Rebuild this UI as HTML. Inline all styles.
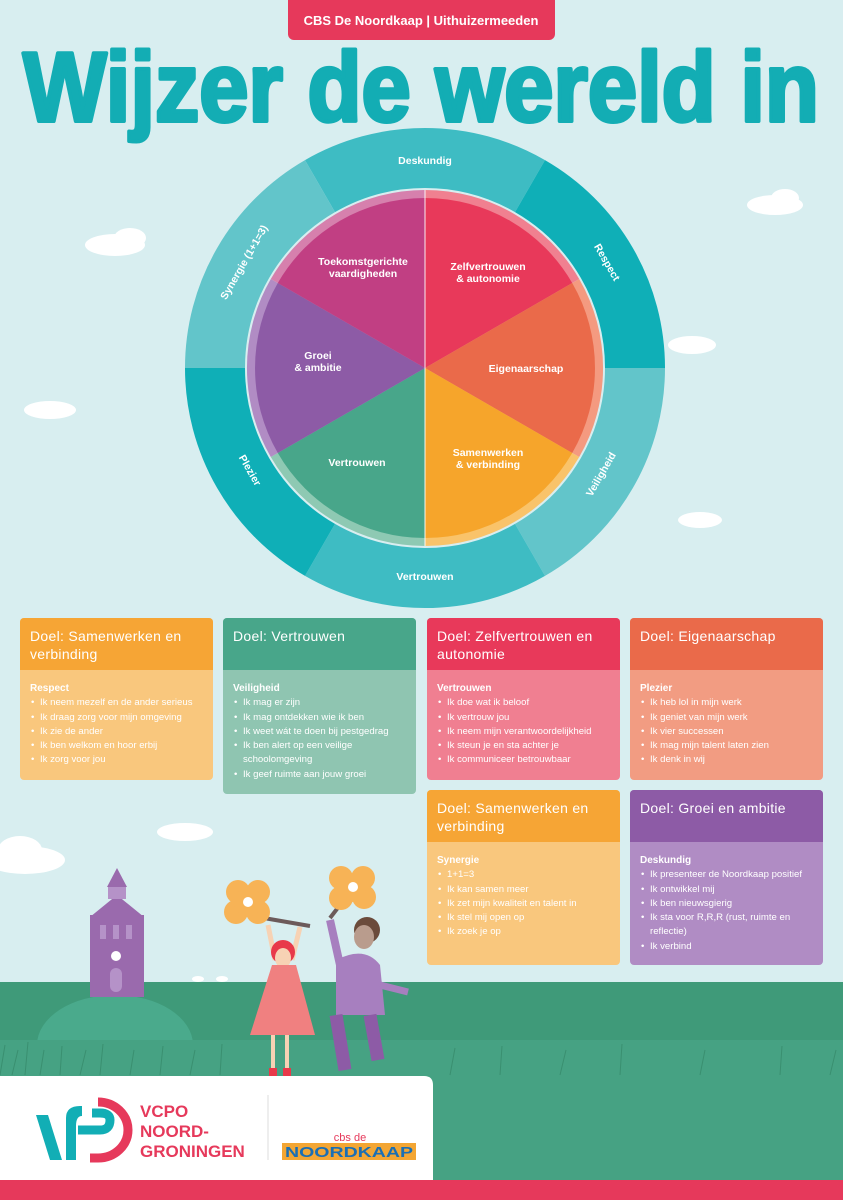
<!DOCTYPE html>
<html><head><meta charset="utf-8"><style>
*{margin:0;padding:0;box-sizing:border-box}
body{width:843px;height:1200px;overflow:hidden;background:#d8eef0;font-family:"Liberation Sans",sans-serif;position:relative}
.card{position:absolute;width:193px;border-radius:4px;overflow:hidden;color:#fff}
.card .h{height:52px;padding:9px 10px;font-size:14px;line-height:18px;letter-spacing:0.3px}
.card .b{padding:12px 10px 8px;font-size:9.6px;line-height:14.3px}
.card .b b{font-size:10px}
.card ul{list-style:none}
.card li{padding-left:10px;position:relative}
.card li:before{content:"•";position:absolute;left:1px}
</style></head><body>
<svg width="843" height="1200" style="position:absolute;left:0;top:0">
<g fill="#fff">
<ellipse cx="115" cy="245" rx="30" ry="11"/><ellipse cx="130" cy="238" rx="16" ry="10"/>
<ellipse cx="775" cy="205" rx="28" ry="10"/><ellipse cx="785" cy="198" rx="14" ry="9"/>
<ellipse cx="692" cy="345" rx="24" ry="9"/><ellipse cx="50" cy="410" rx="26" ry="9"/>
<ellipse cx="700" cy="520" rx="22" ry="8"/><ellipse cx="185" cy="832" rx="28" ry="9"/>
<ellipse cx="25" cy="860" rx="40" ry="14"/><ellipse cx="20" cy="850" rx="22" ry="14"/>
</g>
<rect x="288" y="-6" width="267" height="46" rx="6" fill="#e6395b"/>
<text x="421" y="25" fill="#fff" font-size="13" font-weight="bold" text-anchor="middle">CBS De Noordkaap | Uithuizermeeden</text>
<text x="421" y="121" fill="#13adb4" stroke="#13adb4" stroke-width="4" stroke-linejoin="round" font-size="98" font-weight="bold" text-anchor="middle" textLength="796" lengthAdjust="spacingAndGlyphs">Wijzer de wereld in</text>
<g fill="none" stroke-width="60">
<path d="M320.0,186.1 A210 210 0 0 1 530.0,186.1" stroke="#3ebcc3"/>
<path d="M530.0,186.1 A210 210 0 0 1 635,368" stroke="#0fafb7"/>
<path d="M635,368 A210 210 0 0 1 530.0,549.9" stroke="#62c5ca"/>
<path d="M530.0,549.9 A210 210 0 0 1 320.0,549.9" stroke="#3ebcc3"/>
<path d="M320.0,549.9 A210 210 0 0 1 215,368" stroke="#0fafb7"/>
<path d="M215,368 A210 210 0 0 1 320.0,186.1" stroke="#62c5ca"/>
</g>
<g fill="#fff" font-size="10.5" font-weight="bold" text-anchor="middle">
<text x="425" y="164">Deskundig</text>
<text transform="translate(604,264) rotate(60)">Respect</text>
<text transform="translate(604,476) rotate(-60)">Veiligheid</text>
<text x="425" y="580">Vertrouwen</text>
<text transform="translate(247,472) rotate(60)">Plezier</text>
<text transform="translate(247,264) rotate(-60)">Synergie (1+1=3)</text>
</g>
<path d="M425,368 L425,190 A178 178 0 0 1 579.2,279 Z" fill="#f08090"/>
<path d="M425,368 L579.2,279 A178 178 0 0 1 579.2,457 Z" fill="#f49a80"/>
<path d="M425,368 L579.2,457 A178 178 0 0 1 425,546 Z" fill="#f9c36a"/>
<path d="M425,368 L425,546 A178 178 0 0 1 270.8,457 Z" fill="#8ec9b3"/>
<path d="M425,368 L270.8,457 A178 178 0 0 1 270.8,279 Z" fill="#b18cc4"/>
<path d="M425,368 L270.8,279 A178 178 0 0 1 425,190 Z" fill="#d680ad"/>
<path d="M425,368 L425,198 A170 170 0 0 1 572.2,283 Z" fill="#e8395a"/>
<path d="M425,368 L572.2,283 A170 170 0 0 1 572.2,453 Z" fill="#ea6a4a"/>
<path d="M425,368 L572.2,453 A170 170 0 0 1 425,538 Z" fill="#f6a52b"/>
<path d="M425,368 L425,538 A170 170 0 0 1 277.8,453 Z" fill="#48a68a"/>
<path d="M425,368 L277.8,453 A170 170 0 0 1 277.8,283 Z" fill="#8d5ba6"/>
<path d="M425,368 L277.8,283 A170 170 0 0 1 425,198 Z" fill="#c13f83"/>
<g stroke="#fff" stroke-width="1.5" opacity="0.6"><line x1="425" y1="190" x2="425" y2="546"/></g>
<g fill="#fff" font-size="10.5" font-weight="bold" text-anchor="middle">
<text x="488" y="270">Zelfvertrouwen</text><text x="488" y="282">&amp; autonomie</text>
<text x="526" y="372">Eigenaarschap</text>
<text x="488" y="456">Samenwerken</text><text x="488" y="468">&amp; verbinding</text>
<text x="357" y="466">Vertrouwen</text>
<text x="318" y="359">Groei</text><text x="318" y="371">&amp; ambitie</text>
<text x="363" y="265">Toekomstgerichte</text><text x="363" y="277">vaardigheden</text>
</g>
<rect x="0" y="982" width="843" height="218" fill="#3f9a79"/>
<ellipse cx="115" cy="1045" rx="78" ry="50" fill="#4aaa8c"/>
<rect x="0" y="1040" width="843" height="160" fill="#46a283"/>
<g stroke="#3a8f70" stroke-width="1">
<path d="M0,1075 L5,1045 M12,1075 L18,1050 M25,1075 L28,1042 M40,1075 L44,1050 M60,1075 L62,1046 M80,1075 L86,1050 M100,1075 L103,1044 M130,1075 L134,1050 M160,1075 L163,1046 M190,1075 L195,1050 M220,1075 L222,1044 M450,1075 L455,1048 M500,1075 L502,1046 M560,1075 L566,1050 M620,1075 L622,1044 M700,1075 L705,1050 M780,1075 L782,1046 M830,1075 L836,1050"/>
</g>
<rect x="90" y="915" width="54" height="82" fill="#9a6aad"/>
<polygon points="90,917 117,895 144,917" fill="#9a6aad"/>
<rect x="108" y="885" width="18" height="14" fill="#b592c8"/>
<polygon points="107,887 117,868 127,887" fill="#9a6aad"/>
<rect x="100" y="925" width="6" height="14" fill="#b592c8"/><rect x="113" y="925" width="6" height="14" fill="#b592c8"/><rect x="126" y="925" width="6" height="14" fill="#b592c8"/>
<circle cx="116" cy="956" r="5" fill="#fff"/>
<rect x="110" y="968" width="12" height="24" rx="6" fill="#b592c8"/>
<ellipse cx="198" cy="979" rx="6" ry="3" fill="#fff"/><ellipse cx="222" cy="979" rx="6" ry="3" fill="#fff"/>
<line x1="258" y1="917" x2="310" y2="926" stroke="#6c5a5a" stroke-width="4"/>
<g fill="#f7b356"><circle cx="238" cy="892" r="12"/><circle cx="258" cy="892" r="12"/><circle cx="236" cy="912" r="12"/><circle cx="258" cy="912" r="12"/><circle cx="248" cy="902" r="14"/></g>
<circle cx="248" cy="902" r="5" fill="#fff"/>
<path d="M268,925 L275,960 M300,927 L292,960" stroke="#f7d2b4" stroke-width="5"/>
<circle cx="283" cy="952" r="12" fill="#e8394a"/>
<ellipse cx="283" cy="958" rx="8" ry="10" fill="#f7d2b4"/>
<polygon points="272,965 296,965 315,1035 250,1035" fill="#f08080"/>
<rect x="271" y="1035" width="4" height="35" fill="#f7d2b4"/><rect x="285" y="1035" width="4" height="35" fill="#f7d2b4"/>
<rect x="269" y="1068" width="8" height="8" fill="#e8394a"/><rect x="283" y="1068" width="8" height="8" fill="#e8394a"/>
<line x1="330" y1="918" x2="340" y2="905" stroke="#6c5a5a" stroke-width="4"/>
<g fill="#f7b356"><circle cx="341" cy="878" r="12"/><circle cx="363" cy="878" r="12"/><circle cx="341" cy="898" r="12"/><circle cx="364" cy="897" r="12"/><circle cx="352" cy="888" r="14"/></g>
<circle cx="353" cy="887" r="5" fill="#fff"/>
<path d="M330,920 L340,965" stroke="#a77fbf" stroke-width="8"/>
<circle cx="367" cy="930" r="13" fill="#6b4b3b"/><ellipse cx="364" cy="937" rx="10" ry="12" fill="#b99c8d"/>
<path d="M336,960 Q365,945 380,965 L385,1015 L336,1015 Z" fill="#a77fbf"/>
<path d="M380,985 L408,992" stroke="#a77fbf" stroke-width="7"/>
<path d="M336,1015 L345,1070 M370,1015 L378,1060" stroke="#8d5ba6" stroke-width="13"/>
<path d="M0,1076 L424,1076 Q433,1076 433,1085 L433,1180 L0,1180 Z" fill="#fff"/>
<rect x="0" y="1180" width="843" height="20" fill="#e6395b"/>
<path d="M36,1115 L48,1115 L62,1160 L50,1160 Z" fill="#12aeb5"/>
<path d="M66,1160 L66,1118 Q66,1106 80,1106 L82,1106 L82,1116 Q76,1116 76,1126 L76,1160 Z" fill="#12aeb5"/>
<path d="M78,1130 L100,1130 Q110,1130 110,1120 Q110,1113 100,1113 L92,1113" fill="none" stroke="#12aeb5" stroke-width="9"/>
<path d="M98,1102 A30 28 0 0 1 98,1158 L90,1158" fill="none" stroke="#e6395b" stroke-width="9"/>
<g fill="#e6395b" font-size="17" font-weight="bold">
<text x="140" y="1117">VCPO</text><text x="140" y="1137">NOORD-</text><text x="140" y="1157">GRONINGEN</text>
</g>
<line x1="268" y1="1095" x2="268" y2="1160" stroke="#ddd"/>
<text x="350" y="1141" fill="#e6395b" font-size="11" text-anchor="middle">cbs de</text>
<rect x="282" y="1143" width="134" height="17" fill="#f3a634"/>
<text x="349" y="1157" fill="#1a6fb5" font-size="15" font-weight="bold" text-anchor="middle" textLength="128" lengthAdjust="spacingAndGlyphs">NOORDKAAP</text>
</svg>

<div class="card" style="left:20px;top:618px;background:#f9c77d;height:162px"><div class="h" style="background:#f6a535">Doel: Samenwerken en verbinding</div><div class="b"><b>Respect</b><ul><li>Ik neem mezelf en de ander serieus</li><li>Ik draag zorg voor mijn omgeving</li><li>Ik zie de ander</li><li>Ik ben welkom en hoor erbij</li><li>Ik zorg voor jou</li></ul></div></div>
<div class="card" style="left:223px;top:618px;background:#8fc5b1;height:176px"><div class="h" style="background:#48a68a">Doel: Vertrouwen</div><div class="b"><b>Veiligheid</b><ul><li>Ik mag er zijn</li><li>Ik mag ontdekken wie ik ben</li><li>Ik weet wát te doen bij pestgedrag</li><li>Ik ben alert op een veilige schoolomgeving</li><li>Ik geef ruimte aan jouw groei</li></ul></div></div>
<div class="card" style="left:427px;top:618px;background:#f07f91;height:162px"><div class="h" style="background:#e8395a">Doel: Zelfvertrouwen en autonomie</div><div class="b"><b>Vertrouwen</b><ul><li>Ik doe wat ik beloof</li><li>Ik vertrouw jou</li><li>Ik neem mijn verantwoordelijkheid</li><li>Ik steun je en sta achter je</li><li>Ik communiceer betrouwbaar</li></ul></div></div>
<div class="card" style="left:630px;top:618px;background:#f29c82;height:162px"><div class="h" style="background:#ea6a4a">Doel: Eigenaarschap</div><div class="b"><b>Plezier</b><ul><li>Ik heb lol in mijn werk</li><li>Ik geniet van mijn werk</li><li>Ik vier successen</li><li>Ik mag mijn talent laten zien</li><li>Ik denk in wij</li></ul></div></div>
<div class="card" style="left:427px;top:790px;background:#f9c77d;height:175px"><div class="h" style="background:#f6a535">Doel: Samenwerken en verbinding</div><div class="b"><b>Synergie</b><ul><li>1+1=3</li><li>Ik kan samen meer</li><li>Ik zet mijn kwaliteit en talent in</li><li>Ik stel mij open op</li><li>Ik zoek je op</li></ul></div></div>
<div class="card" style="left:630px;top:790px;background:#b08cc4;height:175px"><div class="h" style="background:#8d5ba6">Doel: Groei en ambitie</div><div class="b"><b>Deskundig</b><ul><li>Ik presenteer de Noordkaap positief</li><li>Ik ontwikkel mij</li><li>Ik ben nieuwsgierig</li><li>Ik sta voor R,R,R (rust, ruimte en reflectie)</li><li>Ik verbind</li></ul></div></div>
</body></html>
